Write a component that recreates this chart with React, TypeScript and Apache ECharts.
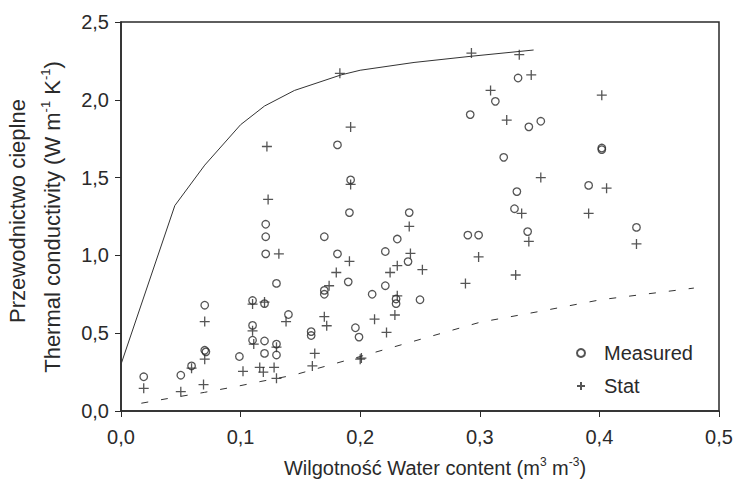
import React, { useEffect, useRef } from "react";
import * as echarts from "echarts";

const xTicks = [0, 0.1, 0.2, 0.3, 0.4, 0.5];
const yTicks = [0, 0.5, 1.0, 1.5, 2.0, 2.5];

const upperLine: number[][] = [
  [0, 0.3], [0.045, 1.32], [0.07, 1.58], [0.1, 1.84], [0.12, 1.96], [0.145, 2.06],
  [0.184, 2.16], [0.2, 2.19], [0.245, 2.24], [0.293, 2.28], [0.345, 2.32],
];

const lowerLine: number[][] = [
  [0.017, 0.05], [0.039, 0.08], [0.07, 0.12], [0.098, 0.16], [0.117, 0.19], [0.144, 0.23],
  [0.2, 0.35], [0.25, 0.46], [0.3, 0.57], [0.35, 0.64], [0.401, 0.715], [0.479, 0.79],
];

const measured: number[][] = [
  [0.019, 0.22], [0.05, 0.23], [0.059, 0.29], [0.07, 0.68], [0.07, 0.39], [0.071, 0.38],
  [0.099, 0.35], [0.11, 0.71], [0.11, 0.55], [0.11, 0.455], [0.12, 0.69], [0.12, 0.45],
  [0.12, 0.37], [0.121, 1.2], [0.121, 1.12], [0.121, 1.01], [0.13, 0.82], [0.13, 0.43],
  [0.13, 0.36], [0.14, 0.62], [0.159, 0.51], [0.159, 0.485], [0.17, 1.12], [0.17, 0.775],
  [0.17, 0.75], [0.181, 1.01], [0.181, 1.71], [0.19, 0.83], [0.192, 1.485], [0.191, 1.275],
  [0.196, 0.535], [0.199, 0.475], [0.21, 0.75], [0.221, 0.805], [0.221, 1.025], [0.231, 1.105],
  [0.24, 0.96], [0.241, 1.275], [0.23, 0.72], [0.23, 0.69], [0.25, 0.715], [0.29, 1.13],
  [0.299, 1.13], [0.292, 1.905], [0.313, 1.99], [0.332, 2.14], [0.341, 1.826], [0.351, 1.862],
  [0.32, 1.63], [0.331, 1.41], [0.329, 1.3], [0.34, 1.153], [0.402, 1.69], [0.402, 1.68],
  [0.391, 1.45], [0.431, 1.18],
];

const stat: number[][] = [
  [0.019, 0.146], [0.05, 0.124], [0.059, 0.275], [0.07, 0.575], [0.07, 0.333], [0.069, 0.17],
  [0.102, 0.255], [0.11, 0.687], [0.11, 0.515], [0.111, 0.43], [0.116, 0.28], [0.119, 0.25],
  [0.12, 0.7], [0.128, 0.28], [0.13, 0.21], [0.13, 0.41], [0.132, 1.01], [0.138, 0.575],
  [0.122, 1.7], [0.123, 1.36], [0.162, 0.37], [0.16, 0.29], [0.191, 0.962], [0.18, 0.89],
  [0.174, 0.805], [0.17, 0.606], [0.172, 0.548], [0.2, 0.333], [0.201, 0.34], [0.212, 0.59],
  [0.222, 0.505], [0.225, 0.89], [0.231, 0.934], [0.242, 1.013], [0.252, 0.908], [0.231, 0.74],
  [0.229, 0.617], [0.288, 0.82], [0.299, 0.99], [0.183, 2.17], [0.192, 1.825], [0.192, 1.456],
  [0.241, 1.186], [0.293, 2.3], [0.333, 2.29], [0.343, 2.16], [0.309, 2.06], [0.3225, 1.87],
  [0.351, 1.5], [0.335, 1.27], [0.341, 1.09], [0.33, 0.874], [0.402, 2.03], [0.406, 1.432],
  [0.391, 1.27], [0.431, 1.074],
];

const FONT = "'Liberation Sans', Arial, sans-serif";
const INK = "#2a2a2a";
const CROSS = "path://M5,0L5,10M0,5L10,5";

export default function App() {
  const ref = useRef<HTMLDivElement>(null);

  useEffect(() => {
    if (!ref.current) return;
    const chart = echarts.init(ref.current, undefined, { renderer: "svg" });
    const fmt = (v: number) => v.toFixed(1).replace(".", ",");
    const richTitle = (size: number) => ({
      n: { fontSize: size, fontFamily: FONT, fill: INK, lineHeight: size + 4 },
      sup: { fontSize: Math.round(size * 0.6), fontFamily: FONT, fill: INK, verticalAlign: "top", lineHeight: Math.round(size * 0.6) },
    });
    chart.setOption({
      animation: false,
      backgroundColor: "#ffffff",
      textStyle: { fontFamily: FONT, color: INK },
      grid: {
        left: 121, right: 17, top: 22, bottom: 82,
        show: true, borderColor: INK, borderWidth: 1.5,
      },
      xAxis: {
        type: "value", min: xTicks[0], max: xTicks[xTicks.length - 1], interval: 0.1,
        axisLine: { show: true, lineStyle: { color: INK, width: 1.5 } },
        axisTick: { show: true, inside: false, length: 6, lineStyle: { color: INK } },
        axisLabel: { fontSize: 20, color: INK, margin: 16, formatter: fmt, fontFamily: FONT },
        splitLine: { show: false },
      },
      yAxis: {
        type: "value", min: yTicks[0], max: yTicks[yTicks.length - 1], interval: 0.5,
        axisLine: { show: true, lineStyle: { color: INK, width: 1.5 } },
        axisTick: { show: true, inside: false, length: 6, lineStyle: { color: INK } },
        axisLabel: { fontSize: 20, color: INK, margin: 12, formatter: fmt, fontFamily: FONT },
        splitLine: { show: false },
      },
      legend: {
        data: ["Measured", "Stat"],
        orient: "vertical",
        left: 576, top: 342,
        itemWidth: 20, itemHeight: 8, itemGap: 11,
        padding: 0,
        textStyle: { fontSize: 20, color: INK, fontFamily: FONT, lineHeight: 22, padding: [0, 0, 0, 8] },
      },
      graphic: [
        {
          type: "text", x: 435, y: 468,
          style: {
            text: "{n|Wilgotność Water content (m}{sup|3}{n| m}{sup|-3}{n|)}",
            rich: richTitle(20), align: "center", verticalAlign: "middle",
          },
        },
        {
          type: "text", x: 17, y: 211, rotation: Math.PI / 2,
          style: {
            text: "Przewodnictwo cieplne", font: `22px ${FONT}`, fill: INK,
            align: "center", verticalAlign: "middle",
          },
        },
        {
          type: "text", x: 52, y: 217, rotation: Math.PI / 2,
          style: {
            text: "{n|Thermal conductivity (W m}{sup|-1}{n| K}{sup|-1}{n|)}",
            rich: richTitle(22), align: "center", verticalAlign: "middle",
          },
        },
      ],
      series: [
        {
          name: "Upper", type: "line", data: upperLine, symbol: "none",
          lineStyle: { color: "#333", width: 1 },
        },
        {
          name: "Lower", type: "line", data: lowerLine, symbol: "none",
          lineStyle: { color: "#333", width: 1, type: [7, 13] },
        },
        {
          name: "Measured", type: "scatter", data: measured, symbol: "circle", symbolSize: 7.5,
          itemStyle: { color: "rgba(255,255,255,0)", borderColor: INK, borderWidth: 1.3 },
        },
        {
          name: "Stat", type: "scatter", data: stat, symbol: CROSS, symbolSize: 10,
          itemStyle: { color: "rgba(255,255,255,0)", borderColor: INK, borderWidth: 1.3 },
        },
      ],
    });
    return () => chart.dispose();
  }, []);

  return (
    <div
      ref={ref}
      style={{ position: "absolute", left: 0, top: 0, width: 736, height: 493 }}
    />
  );
}
